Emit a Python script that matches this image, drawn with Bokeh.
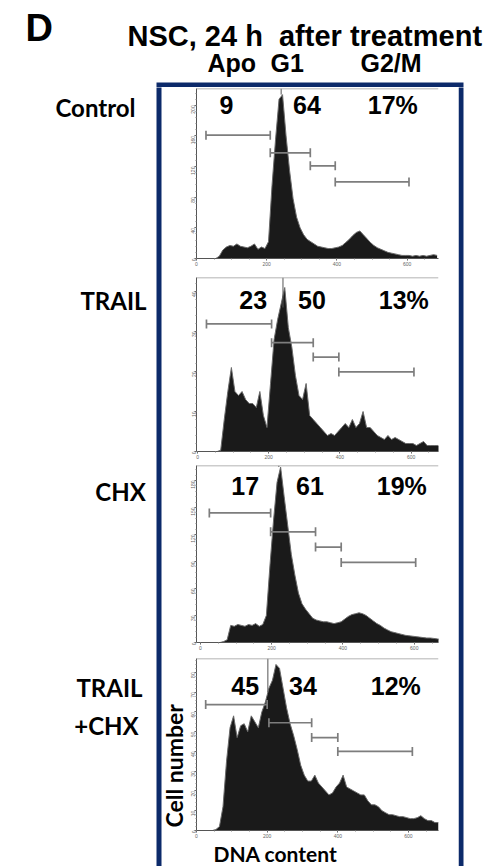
import math
from bokeh.plotting import figure
from bokeh.layouts import column, row
from bokeh.models import Range1d, Label, BoxAnnotation, Span, FixedTicker, ColumnDataSource
from bokeh.embed import file_html
from bokeh.resources import INLINE

# ---------------- data ----------------
dna_channels = list(range(5, 690, 10))

control_counts = [0, 0, 0, 0, 0, 0, 3, 11, 15, 17,
                  16, 19, 16, 15, 14, 16, 19, 12, 15, 13,
                  22, 95, 155, 208, 214, 160, 115, 78, 54, 40,
                  31, 25, 22, 19, 16, 15, 14, 13, 13, 14,
                  15, 17, 21, 25, 30, 34, 36, 31, 26, 21,
                  17, 14, 12, 10, 8, 7, 6, 5, 4, 4,
                  4, 3, 4, 3, 4, 3, 4, 5, 4]
trail_counts = [0, 0, 0, 0, 0, 0, 0.3, 8, 15, 21,
                15, 14, 15, 13, 12, 12, 11, 15, 9, 6,
                17, 28, 33, 37, 41, 31, 26, 19, 14, 13,
                17, 9, 8, 7, 6, 5, 4, 4.5, 4, 5,
                6, 7, 6, 8, 6, 7, 10, 6, 6, 5,
                4, 3.5, 3, 4, 3, 3.5, 3, 2.5, 2, 2,
                2, 1.5, 2, 2.5, 1.5, 1.5, 1.5, 1.5, 1]
chx_counts = [0, 0, 0, 0, 0, 0, 1, 3, 19, 18,
              20, 19, 18, 20, 19, 21, 18, 20, 30, 85,
              135, 178, 195, 162, 130, 98, 75, 55, 43, 37,
              32, 27, 25, 24, 23, 23, 22, 21, 22, 23,
              26, 29, 31, 32, 33, 32, 30, 27, 24, 21,
              19, 16, 14, 12, 11, 10, 9, 8, 7.5, 7,
              6.5, 6, 5.5, 5, 5, 4.5, 4, 4, 4]
trail_chx_counts = [0, 0, 0, 0, 0, 0.5, 2, 12, 35, 52,
                    58, 47, 53, 54, 50, 58, 55, 52, 60, 65,
                    72, 76, 84, 82, 72, 62, 54, 48, 41, 33,
                    28, 25, 25, 28, 24, 22, 20, 18, 19, 22,
                    24, 28, 22, 21, 20, 19, 18, 18, 15, 13,
                    13, 12, 10, 9, 8, 8, 7.5, 7, 7, 6.5,
                    6, 6, 6.5, 7.5, 6, 5, 5, 4, 4]
panel_counts = [control_counts, trail_counts, chx_counts, trail_chx_counts]

row_labels = [["Control"], ["TRAIL"], ["CHX"], ["TRAIL", "+CHX"]]
apo_pct = ["9", "23", "17", "45"]
g1_pct = ["64", "50", "61", "34"]
g2m_pct = ["17%", "13%", "19%", "12%"]

gate_left = [[27, 210, 324, 395], [25, 208, 325, 397], [25, 197, 323, 395], [26, 205, 326, 400]]
gate_right = [[210, 324, 395, 605], [208, 325, 397, 608], [197, 323, 395, 604], [200, 326, 400, 611]]
gate_level = [[161, 138, 121, 100], [31.9, 27.2, 23.6, 19.9], [144, 123, 106, 89], [63.7, 54.5, 47, 40]]
cursor_x = [241, 240, 220, 202]
cursor_base = [214, 36, 195, 70]

x_ticks = [0, 200, 400, 600]
y_ticks = [[0, 40, 80, 120, 160, 200],
           [0, 10, 20, 30, 40],
           [0, 30, 60, 90, 120, 150, 180],
           [0, 10, 20, 30, 40, 50, 60, 70, 80]]
y_max = [222, 43.5, 196.7, 87]
x_start = [0, -3, -11, 0]
x_end = [689, 677, 668, 685]

title_text = "NSC, 24 h\u00a0 after treatment"
phase_names = ["Apo", "G1", "G2/M"]

# ---------------- styling / geometry (screen pixels; page has no margin) ----------------
NAVY = "#0c2a6a"
ARIAL = "Liberation Sans"
CAL = "Lato"
PAGE_W = 486
FL, FR = 195, 438            # panel frame left/right
MID_L, MID_R = 186, 458      # middle column extent
PANEL_Y = [(87, 271, 88, 258), (271, 462, 277, 451), (462, 654, 465, 642), (654, 840, 658, 832)]
BODY_TOP, BODY_BOT = 87, 866


def deco_fig(x0, x1, y0, y1):
    f = figure(width=x1 - x0, height=y1 - y0, x_range=Range1d(x0, x1), y_range=Range1d(y1, y0),
               min_border=0, toolbar_location=None, output_backend="svg",
               x_axis_location=None, y_axis_location=None, title=None)
    f.outline_line_color = None
    f.grid.visible = False
    return f


def lab(f, x, y, text, font, size, align="left", **kw):
    f.add_layout(Label(x=x, y=y, text=text, text_font=font, text_font_style="bold",
                       text_font_size=size, text_color="black", text_align=align,
                       text_baseline="middle", **kw))


# ---------------- header ----------------
h = deco_fig(0, PAGE_W, 0, BODY_TOP)
h.add_layout(BoxAnnotation(left=156, right=463, top=82, bottom=90,
                           fill_color=NAVY, fill_alpha=1, line_color=None))
lab(h, 25, 27, "D", ARIAL, "38px")
lab(h, 127, 35, title_text, ARIAL, "29px")
for name, px in zip(phase_names, [207, 270, 360]):
    lab(h, px, 62, name, ARIAL, "25px")

# ---------------- left labels column ----------------
left = deco_fig(0, MID_L, BODY_TOP, BODY_BOT)
left.add_layout(BoxAnnotation(left=156, right=161, top=80, bottom=880,
                              fill_color=NAVY, fill_alpha=1, line_color=None))
label_pos = [[(95, 107)], [(113, 300)], [(120, 491)], [(109, 687), (106, 725)]]
for texts, poss in zip(row_labels, label_pos):
    for t, (px, py) in zip(texts, poss):
        lab(left, px, py, t, CAL, "24px", align="center")
lab(left, 173, 827, "Cell number", CAL, "23px", angle=math.pi / 2)

# ---------------- right border column ----------------
right = deco_fig(MID_R, PAGE_W, BODY_TOP, BODY_BOT)
right.add_layout(BoxAnnotation(left=458, right=463, top=80, bottom=880,
                               fill_color=NAVY, fill_alpha=1, line_color=None))

# ---------------- panels ----------------
panels = []
for i, (top, bot, ft, fb) in enumerate(PANEL_Y):
    ym = y_max[i]
    xs, xe = x_start[i], x_end[i]

    def dx(px, xs=xs, xe=xe):
        return xs + (px - FL) / (FR - FL) * (xe - xs)

    def dy(py, ft=ft, fb=fb, ym=ym):
        return (fb - py) / (fb - ft) * ym

    p = figure(width=MID_R - MID_L, height=bot - top,
               x_range=Range1d(xs, xe), y_range=Range1d(0, ym),
               min_border_left=FL - MID_L, min_border_right=MID_R - FR,
               min_border_top=ft - top, min_border_bottom=bot - fb,
               toolbar_location=None, output_backend="svg", title=None)
    p.outline_line_color = None
    p.grid.visible = False

    src = ColumnDataSource(dict(x=dna_channels, y=panel_counts[i]))
    p.varea(x="x", y1=0, y2="y", source=src, fill_color="#1a1a1a")
    p.line("x", "y", source=src, line_color="#6a6a6a", line_width=1)

    gl, gr, gy = gate_left[i], gate_right[i], gate_level[i]
    p.segment(x0=gl, y0=gy, x1=gr, y1=gy, line_color="#7d7d7d", line_width=1.7)
    p.scatter(x=gl + gr, y=gy + gy, marker="dash", angle=math.pi / 2, size=9,
              line_color="#7d7d7d", line_width=1.7)
    p.segment(x0=[cursor_x[i]], y0=[cursor_base[i]], x1=[cursor_x[i]], y1=[ym],
              line_color="#555555", line_width=1)
    p.add_layout(Span(location=ym, dimension="width", line_color="#9a9a9a", line_width=1.5))

    step = y_ticks[i][1] - y_ticks[i][0]
    p.xaxis.ticker = FixedTicker(ticks=x_ticks, minor_ticks=list(range(0, 700, 50)))
    p.yaxis.ticker = FixedTicker(ticks=y_ticks[i],
                                 minor_ticks=[k * step / 5 for k in range(0, 5 * len(y_ticks[i]) + 5)])
    for ax in p.axis:
        ax.axis_line_color = "#555555"
        ax.major_tick_line_color = "#555555"
        ax.minor_tick_line_color = "#888888"
        ax.major_tick_out = 2
        ax.major_tick_in = 0
        ax.minor_tick_out = 1
        ax.minor_tick_in = 0
        ax.major_label_text_font_size = "5px"
        ax.major_label_text_color = "#666666"
        ax.major_label_standoff = 1
    p.yaxis.major_label_orientation = math.pi / 2

    num_pos = [[(218, 104), (292, 104), (367, 104)],
               [(238, 299), (297, 299), (378, 299)],
               [(230, 485), (295, 485), (376, 485)],
               [(230, 686), (288, 686), (370, 686)]][i]
    for txt, (px, py) in zip([apo_pct[i], g1_pct[i], g2m_pct[i]], num_pos):
        lab(p, dx(px), dy(py), txt, ARIAL, "25px")
    panels.append(p)

# ---------------- x-axis title strip ----------------
bottom = figure(width=MID_R - MID_L, height=BODY_BOT - 840,
                x_range=Range1d(FL, FR), y_range=Range1d(BODY_BOT, 840),
                min_border_left=FL - MID_L, min_border_right=MID_R - FR,
                min_border_top=0, min_border_bottom=0,
                toolbar_location=None, output_backend="svg",
                x_axis_location=None, y_axis_location=None, title=None)
bottom.outline_line_color = None
bottom.grid.visible = False
lab(bottom, 212, 853, "DNA content", CAL, "21px")

mid = column(*panels, bottom, spacing=0)
body = row(left, mid, right, spacing=0)
layout = column(h, body, spacing=0)
open("out.html", "w").write(file_html(layout, INLINE))
